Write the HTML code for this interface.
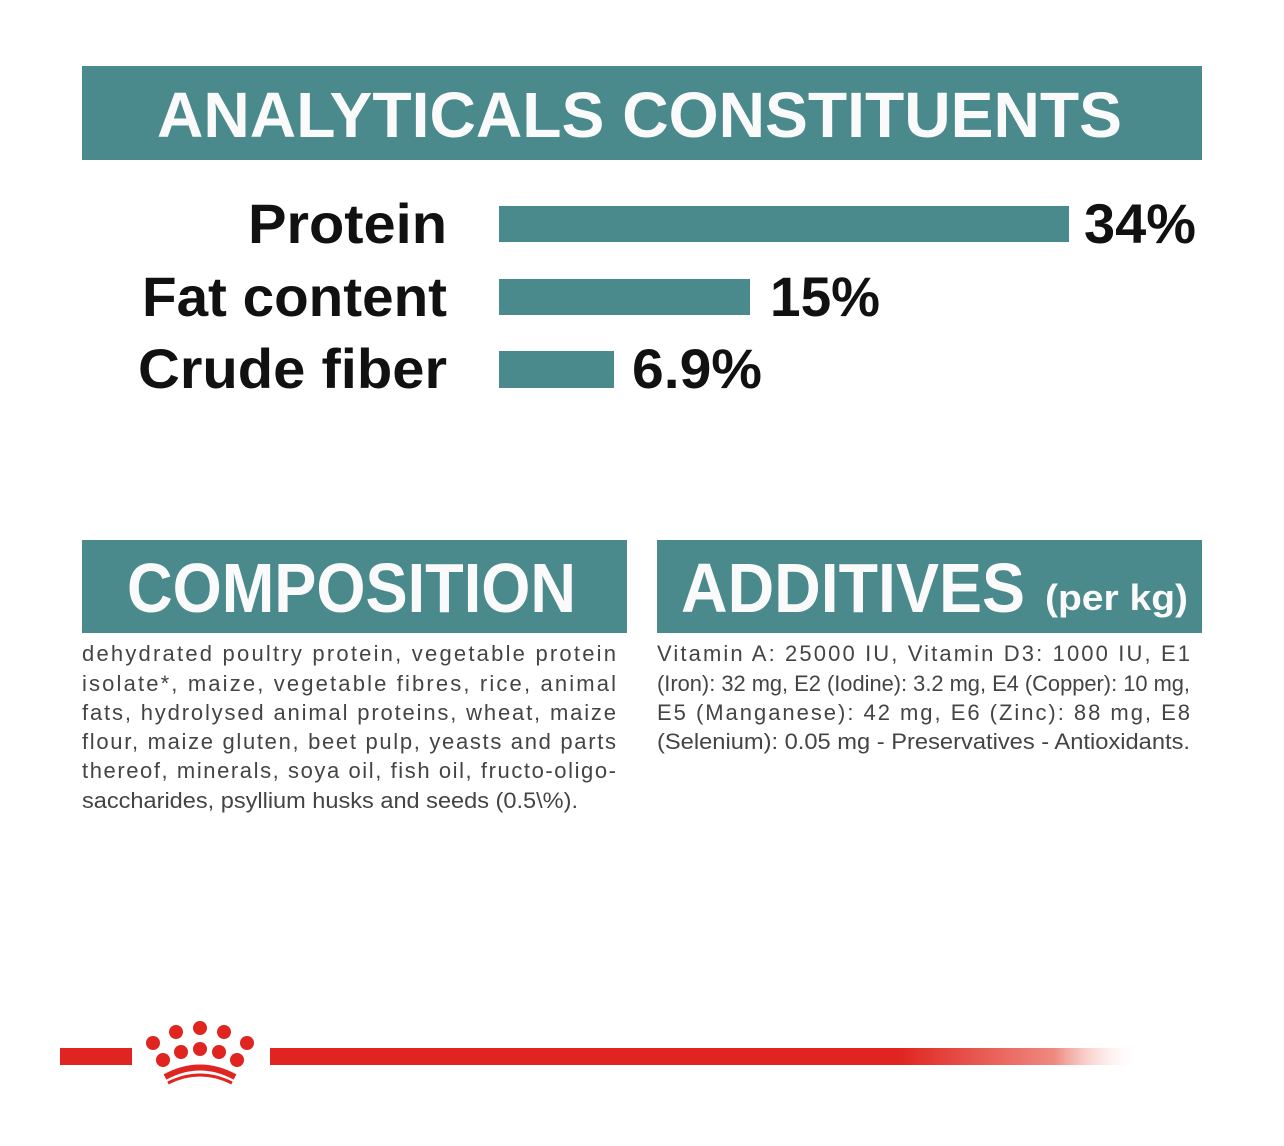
<!DOCTYPE html>
<html><head><meta charset="utf-8"><style>html,body{margin:0;padding:0;background:#fff}svg{display:block}</style></head>
<body>
<svg width="1284" height="1146" viewBox="0 0 1284 1146" xmlns="http://www.w3.org/2000/svg" font-family="'Liberation Sans', sans-serif">
<defs>
<linearGradient id="rg" x1="270" x2="1142" y1="0" y2="0" gradientUnits="userSpaceOnUse">
<stop offset="0" stop-color="#e0241f"/><stop offset="0.72" stop-color="#e0241f"/><stop offset="0.9" stop-color="#ee8a80"/><stop offset="1" stop-color="#ffffff" stop-opacity="0"/>
</linearGradient>
</defs>
<rect width="1284" height="1146" fill="#fff"/>
<rect x="82" y="66" width="1120" height="94" fill="#4a8a8c"/>
<text x="157" y="137" font-size="64" font-weight="bold" fill="#fafafa" textLength="965" lengthAdjust="spacingAndGlyphs">ANALYTICALS CONSTITUENTS</text>
<g font-weight="bold" fill="#111" font-size="56" text-anchor="end">
<text x="447" y="243" textLength="199" lengthAdjust="spacingAndGlyphs">Protein</text>
<text x="447" y="316" textLength="305" lengthAdjust="spacingAndGlyphs">Fat content</text>
<text x="447" y="388" textLength="309" lengthAdjust="spacingAndGlyphs">Crude fiber</text>
</g>
<rect x="499" y="206" width="570" height="36" fill="#4a8a8c"/>
<rect x="499" y="279" width="251" height="36" fill="#4a8a8c"/>
<rect x="499" y="351" width="115" height="37" fill="#4a8a8c"/>
<g font-weight="bold" fill="#111" font-size="56">
<text x="1084" y="243" textLength="112" lengthAdjust="spacingAndGlyphs">34%</text>
<text x="770" y="316" textLength="110" lengthAdjust="spacingAndGlyphs">15%</text>
<text x="632" y="388" textLength="130" lengthAdjust="spacingAndGlyphs">6.9%</text>
</g>
<rect x="82" y="540" width="545" height="93" fill="#4a8a8c"/>
<rect x="657" y="540" width="545" height="93" fill="#4a8a8c"/>
<text x="127" y="612" font-size="70" font-weight="bold" fill="#fafafa" textLength="449" lengthAdjust="spacingAndGlyphs">COMPOSITION</text>
<text x="681" y="612" font-size="70" font-weight="bold" fill="#fafafa" textLength="344" lengthAdjust="spacingAndGlyphs">ADDITIVES</text>
<text x="1045" y="610" font-size="36" font-weight="bold" fill="#fafafa" textLength="143" lengthAdjust="spacingAndGlyphs">(per kg)</text>
<g font-size="22" fill="#444">
<text x="82" y="661" textLength="534" lengthAdjust="spacing">dehydrated poultry protein, vegetable protein</text>
<text x="82" y="691" textLength="534" lengthAdjust="spacing">isolate*, maize, vegetable fibres, rice, animal</text>
<text x="82" y="720" textLength="534" lengthAdjust="spacing">fats, hydrolysed animal proteins, wheat, maize</text>
<text x="82" y="749" textLength="534" lengthAdjust="spacing">flour, maize gluten, beet pulp, yeasts and parts</text>
<text x="82" y="778" textLength="534" lengthAdjust="spacing">thereof, minerals, soya oil, fish oil, fructo-oligo-</text>
<text x="82" y="808" textLength="496" lengthAdjust="spacingAndGlyphs">saccharides, psyllium husks and seeds (0.5\%).</text>
<text x="657" y="661" textLength="533" lengthAdjust="spacing">Vitamin A: 25000 IU, Vitamin D3: 1000 IU, E1</text>
<text x="657" y="691" textLength="533" lengthAdjust="spacingAndGlyphs">(Iron): 32 mg, E2 (Iodine): 3.2 mg, E4 (Copper): 10 mg,</text>
<text x="657" y="720" textLength="533" lengthAdjust="spacing">E5 (Manganese): 42 mg, E6 (Zinc): 88 mg, E8</text>
<text x="657" y="749" textLength="533" lengthAdjust="spacingAndGlyphs">(Selenium): 0.05 mg - Preservatives - Antioxidants.</text>
</g>
<rect x="60" y="1048" width="72" height="17" fill="#e0241f"/>
<rect x="270" y="1048" width="872" height="17" fill="url(#rg)"/>
<g fill="#e0241f">
<circle cx="153" cy="1043" r="7"/><circle cx="176" cy="1032" r="7"/><circle cx="200" cy="1028" r="7"/><circle cx="224" cy="1032" r="7"/><circle cx="247" cy="1043" r="7"/>
<circle cx="163" cy="1060" r="7"/><circle cx="181" cy="1052" r="7"/><circle cx="200" cy="1049" r="7"/><circle cx="219" cy="1052" r="7"/><circle cx="237" cy="1060" r="7"/>
</g>
<path d="M165 1077 Q200 1058 235 1077" stroke="#e0241f" stroke-width="6" fill="none"/>
<path d="M168 1083 Q200 1067 232 1083" stroke="#e0241f" stroke-width="3" fill="none"/>
</svg>
</body></html>
